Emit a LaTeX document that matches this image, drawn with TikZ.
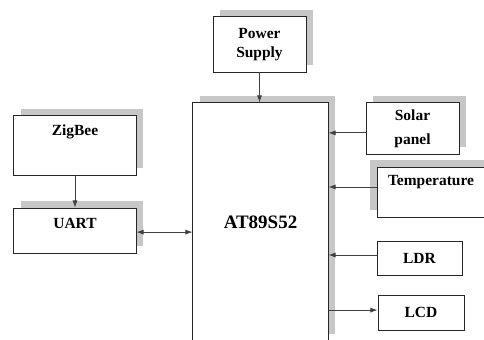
\documentclass[tikz,border=0pt]{standalone}
\usepackage{fontspec}
\setmainfont{Liberation Serif}
\usetikzlibrary{shadows,arrows.meta}

\begin{document}
\begin{tikzpicture}[x=0.025cm,y=-0.025cm,
  blk/.style={draw=black!85,line width=0.7pt,fill=white,inner sep=0pt,align=center,
    font=\bfseries\fontsize{11}{13}\selectfont},
  shd/.style={drop shadow={shadow xshift=0.17cm,shadow yshift=0.17cm,fill=black!22,opacity=1}},
  shdl/.style={drop shadow={shadow xshift=-0.17cm,shadow yshift=0.17cm,fill=black!22,opacity=1}},
  lbl/.style={font=\bfseries\fontsize{11}{13}\selectfont},
  arr/.style={-{Latex[length=5pt,width=3.6pt]},draw=black!75,line width=0.6pt},
  darr/.style={{Latex[length=5pt,width=3.6pt]}-{Latex[length=5pt,width=3.6pt]},draw=black!75,line width=0.6pt}]
 \useasboundingbox (0,0) rectangle (484,340);
 \clip (0,0) rectangle (484,340);
 % Controller (runs off the page at the bottom)
 \node[blk,shd,minimum width=3.375cm,minimum height=5.95cm,
   font=\bfseries\fontsize{13.5}{16}\selectfont] (mcu) at (260.5,222) {AT89S52};
 \node[blk,shd,minimum width=2.325cm,minimum height=1.375cm] (pwr) at (259.5,44.5) {Power\\Supply};
 % Left side: ZigBee link
 \node[blk,shd,minimum width=3.05cm,minimum height=1.475cm] (zig) at (75,145.5) {};
 \node[lbl] (zigtxt) at (75,132) {ZigBee};
 \node[blk,shd,minimum width=3.05cm,minimum height=1.125cm] (uart) at (75,230.5) {};
 \node[lbl] (uarttxt) at (75,223) {UART};
 % Right side: sensors and display
 \node[blk,shd,minimum width=2.325cm,minimum height=1.275cm,
   font=\bfseries\fontsize{11}{17}\selectfont] (solar) at (412.5,128.5) {Solar\\panel};
 \node[blk,shdl,minimum width=2.9cm,minimum height=1.25cm] (temp) at (435,192) {};
 \node[lbl] (temptxt) at (431,182) {Temperature};
 \node[blk,minimum width=2.125cm,minimum height=0.85cm] (ldr) at (419.5,258) {LDR};
 \node[blk,minimum width=2.15cm,minimum height=0.875cm] (lcd) at (421,312.5) {LCD};
 % Connections
 \draw[arr] (pwr.south) -- (pwr.south |- mcu.north);
 \draw[arr] (zig.south) -- (uart.north);
 \draw[darr] ([yshift=-0.04cm]uart.east) -- ([yshift=-0.04cm]uart.east -| mcu.west);
 \draw[arr] ([yshift=-0.11cm]solar.west) -- ([yshift=-0.11cm]solar.west -| mcu.east);
 \draw[arr] ([yshift=0.125cm]temp.west) -- ([yshift=0.125cm]temp.west -| mcu.east);
 \draw[arr] ([yshift=0.075cm]ldr.west) -- ([yshift=0.075cm]ldr.west -| mcu.east);
 \draw[arr] ([yshift=0.06cm]lcd.west -| mcu.east) -- ([yshift=0.06cm]lcd.west);
\end{tikzpicture}
\end{document}
